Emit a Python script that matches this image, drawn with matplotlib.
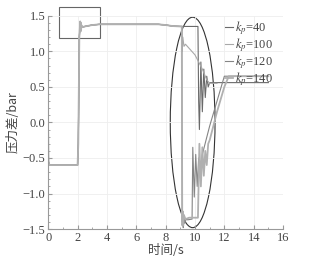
import numpy as np
import matplotlib.pyplot as plt
from matplotlib.patches import Ellipse, Rectangle
from matplotlib.ticker import MultipleLocator

plt.rcParams['font.family'] = ['Liberation Serif', 'Noto Sans CJK SC']
plt.rcParams['mathtext.fontset'] = 'stix'

# --- shared start-up part (0 - 9 s)
t_common = [0.0, 0.02, 0.08, 2.0, 2.05, 2.12, 2.18, 2.2, 2.22, 2.24, 2.26, 2.3, 2.5,
            3.0, 3.5, 5.0, 7.5, 8.0, 8.5, 9.0]
p_common = [-0.15, -0.55, -0.6, -0.6, -0.3, 1.2, 1.42, 1.28, 1.40, 1.30, 1.37, 1.34, 1.35,
            1.37, 1.38, 1.38, 1.38, 1.37, 1.355, 1.35]

# --- after 9 s, per gain
t_40 = [9.0, 10.2, 10.25, 10.3, 10.4, 10.5, 10.6, 10.7, 10.8, 10.9, 11.0, 15.0]
p_40 = [1.35, 1.35, 0.3, -0.1, 0.85, 0.15, 0.75, 0.35, 0.65, 0.5, 0.56, 0.56]

t_100 = [9.0, 9.1, 9.13, 9.17, 9.25, 9.35, 10.0, 10.5, 10.8, 11.0, 11.5]
p_100 = [1.35, 1.35, 1.0, 1.2, 1.07, 1.1, 0.95, 0.75, 0.6, 0.55, 0.55]

t_120 = [9.0, 9.1, 9.13, 9.16, 9.2, 9.24, 9.3, 9.4, 9.5, 9.8, 9.85, 9.95, 10.05, 10.15,
         10.25, 10.35, 10.5, 11.0, 11.5, 12.0, 15.0]
p_120 = [1.35, 1.35, -1.45, -1.28, -1.48, -1.32, -1.42, -1.36, -1.37, -1.36, -0.35, -1.05, -0.45,
         -0.9, -0.5, -0.75, -0.45, -0.05, 0.3, 0.65, 0.65]

t_140 = [9.0, 9.1, 9.13, 9.16, 9.2, 9.24, 9.35, 9.6, 10.2, 10.3, 10.4, 10.5, 10.6, 10.7,
         10.8, 10.9, 11.0, 11.5, 12.0, 12.3, 15.0]
p_140 = [1.35, 1.35, -1.4, -1.25, -1.45, -1.3, -1.36, -1.34, -1.34, -0.3, -0.9, -0.35, -0.75,
         -0.4, -0.6, -0.3, -0.25, 0.15, 0.5, 0.65, 0.65]

kp_vals = [40, 100, 120, 140]
series_t = [t_40, t_100, t_120, t_140]
series_p = [p_40, p_100, p_120, p_140]
colors = ['#6a6a6a', '#a8a8a8', '#858585', '#b0b0b0']
widths = [0.8, 0.8, 0.8, 1.3]

fig = plt.figure(figsize=(3.28, 2.63), dpi=100)
ax = fig.add_axes([0.147, 0.129, 0.716, 0.811])

for kp, t, p, c, w in zip(kp_vals, series_t, series_p, colors, widths):
    ax.plot(t_common + t, p_common + p, color=c, lw=w, label=f'$k_p$={kp}')

ax.set_xlim(0, 16)
ax.set_ylim(-1.5, 1.5)
ax.set_xticks(np.arange(0, 17, 2))
ax.set_yticks([-1.5, -1.0, -0.5, 0.0, 0.5, 1.0, 1.5])
ax.set_yticklabels(['\u22121.5', '\u22121.0', '\u22120.5', '0.0', '0.5', '1.0', '1.5'])
ax.yaxis.set_minor_locator(MultipleLocator(0.1))
ax.xaxis.set_minor_locator(MultipleLocator(1))
ax.tick_params(which='both', direction='in', colors='#999999', labelcolor='#444444', labelsize=9)
ax.tick_params(which='major', length=3, pad=2)
ax.tick_params(which='minor', length=1.5)
ax.grid(True, color='#eeeeee', lw=0.6)
for s in ['top', 'right']:
    ax.spines[s].set_visible(False)
for s in ['left', 'bottom']:
    ax.spines[s].set_color('#999999')
    ax.spines[s].set_linewidth(0.8)

cjk = ['Noto Sans CJK SC', 'Liberation Serif']
ax.set_xlabel('时间/s', fontsize=9, color='#444444', family=cjk, labelpad=0)
ax.set_ylabel('压力差/bar', fontsize=9, color='#444444', family=cjk, labelpad=2)

leg = ax.legend(loc='upper right', bbox_to_anchor=(0.99, 1.02), frameon=False, fontsize=9,
                handlelength=0.6, handletextpad=0.2, labelspacing=-0.05, borderaxespad=0.2)
for txt in leg.get_texts():
    txt.set_color('#444444')

# highlight shapes
ax.add_patch(Rectangle((0.73, 1.19), 2.79, 0.44, fill=False, ec='#666666', lw=0.8, clip_on=False))
ax.add_patch(Ellipse((9.84, 0.0), 3.05, 2.96, fill=False, ec='#333333', lw=0.8, clip_on=False))

fig.savefig('out.png', dpi=100)
